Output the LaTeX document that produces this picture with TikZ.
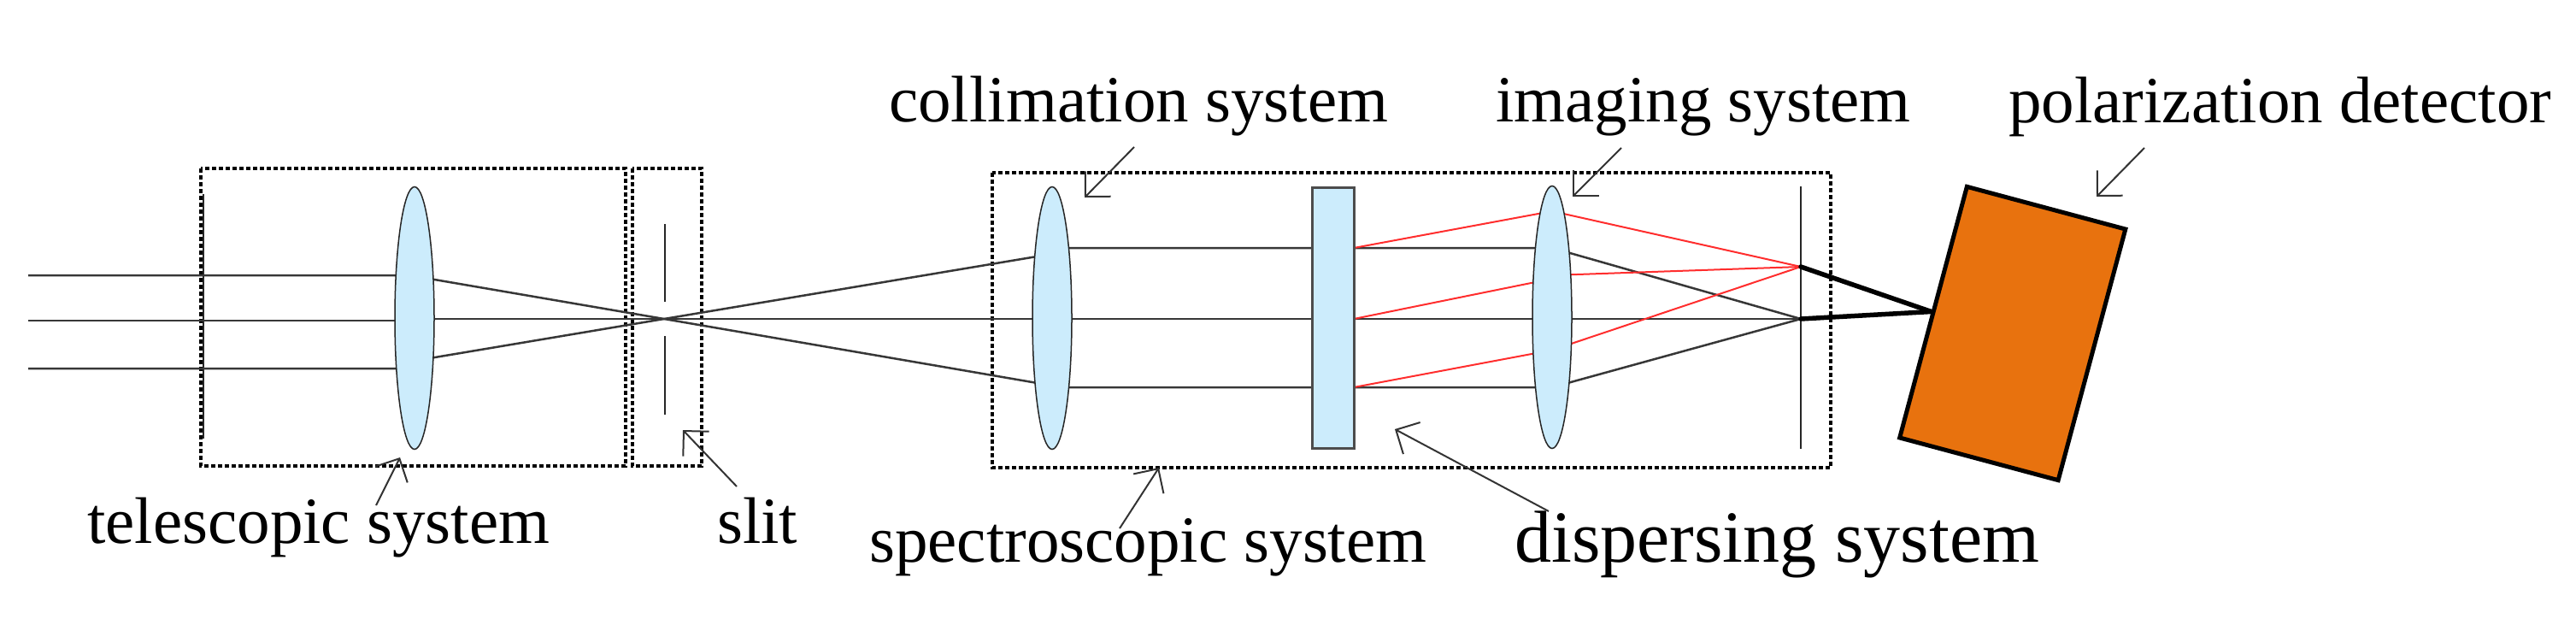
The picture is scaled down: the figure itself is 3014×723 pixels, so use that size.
\documentclass[tikz,border=0pt]{standalone}
\usepackage{fontspec}
\setmainfont{Liberation Serif}
\usetikzlibrary{arrows.meta,shapes.geometric}
\definecolor{lensblue}{RGB}{204,236,252}
\definecolor{detorange}{RGB}{232,114,14}
\definecolor{rayred}{RGB}{255,45,45}
\definecolor{raygray}{RGB}{55,55,55}
\begin{document}
\begin{tikzpicture}[x=1pt,y=-1pt,
  lbl/.style={anchor=base west, inner sep=0pt, font=\fontsize{77}{90}\selectfont},
  biglbl/.style={anchor=base west, inner sep=0pt, font=\fontsize{86}{100}\selectfont},
  sysbox/.style={draw=black, line width=3.6pt, dash pattern=on 5.3pt off 2.7pt},
  ray/.style={draw=raygray, line width=2.5pt, line join=round},
  redray/.style={draw=rayred, line width=2pt, line join=round},
  lensnode/.style={ellipse, draw=black!85, fill=lensblue, line width=1.5pt,
     minimum width=46pt, minimum height=307pt, inner sep=0pt},
  pointer/.style={draw=black!80, line width=2pt, -{Straight Barb[length=21pt,width=42pt]}},
  beam/.style={draw=black, line width=5.5pt, line cap=round},
  thinline/.style={draw=black!85, line width=1.8pt},
]
\useasboundingbox (0,0) rectangle (3014,723);

% system boxes
\draw[sysbox] (235,197) rectangle (732,545);
\draw[sysbox] (740,197) rectangle (821,545);
\draw[sysbox] (1161,202) rectangle (2142,547);

% aperture stop and slit
\draw[thinline] (238,227) -- (238,513);
\coordinate (F1) at (777,373);
\coordinate (P1) at (2107,373);
\coordinate (P2) at (2107,312);
\draw[thinline] (778,262) -- (778,353);
\draw[thinline] (778,393) -- (778,485);

% black rays
\draw[ray] (33,322) -- (485,322) -- (485,323) -- (F1) -- (1231,451) -- (1231,453) -- (1816,453) -- (P1);
\draw[ray] (33,375) -- (485,375) -- (485,373) -- (P1);
\draw[ray] (33,431) -- (485,431) -- (485,422) -- (F1) -- (1231,297) -- (1231,290) -- (1816,290) -- (P1);

% red (dispersed) rays
\draw[redray] (1584,290) -- (1816,247) -- (P2);
\draw[redray] (1584,373) -- (1816,326) -- (1816,322) -- (P2);
\draw[redray] (1584,453) -- (1816,409.5) -- (P2);

% optical elements
\node[lensnode] (L1) at (485,372) {};
\node[lensnode] (L2) at (1231,372) {};
\node[lensnode] (L3) at (1816,371) {};
\node[draw=black!70, fill=lensblue, line width=3pt, minimum width=49pt, minimum height=305pt, inner sep=0pt] (G) at (1559.5,371.5) {};

% detector plane
\draw[thinline, line width=1.5pt] (2107,218) -- (2107,525);

% polarization detector
\node[draw=black, fill=detorange, line width=5pt, minimum width=192pt, minimum height=304pt,
      inner sep=0pt, rotate=-15] (det) at (2354.75,390) {};
\draw[beam] (P2) -- (det.west);
\draw[beam] (P1) -- (det.west);

% labels
\node[lbl] (tcol) at (1040,142) {collimation system};
\node[lbl] (timg) at (1750,142) {imaging system};
\node[lbl] (tpol) at (2350,143) {polarization detector};
\node[lbl] (ttel) at (102,635) {telescopic system};
\node[lbl] (tsli) at (839,635) {slit};
\node[lbl] (tspe) at (1017,657) {spectroscopic system};
\node[biglbl] (tdis) at (1772,657) {dispersing system};

% pointer arrows
\coordinate (colA) at (1327,172); \coordinate (colB) at (1269,231);
\coordinate (imgA) at (1897,173); \coordinate (imgB) at (1840,230);
\coordinate (polA) at (2509,173); \coordinate (polB) at (2453,230);
\coordinate (telA) at (440,591);  \coordinate (telB) at (468,535);
\coordinate (sliA) at (862,569);  \coordinate (sliB) at (799,503);
\coordinate (speA) at (1310,618); \coordinate (speB) at (1356,547);
\coordinate (disA) at (1812,598); \coordinate (disB) at (1632,502);
\draw[pointer] (colA) -- (colB);
\draw[pointer] (imgA) -- (imgB);
\draw[pointer] (polA) -- (polB);
\draw[pointer] (telA) -- (telB);
\draw[pointer] (sliA) -- (sliB);
\draw[pointer] (speA) -- (speB);
\draw[pointer] (disA) -- (disB);
\end{tikzpicture}
\end{document}
